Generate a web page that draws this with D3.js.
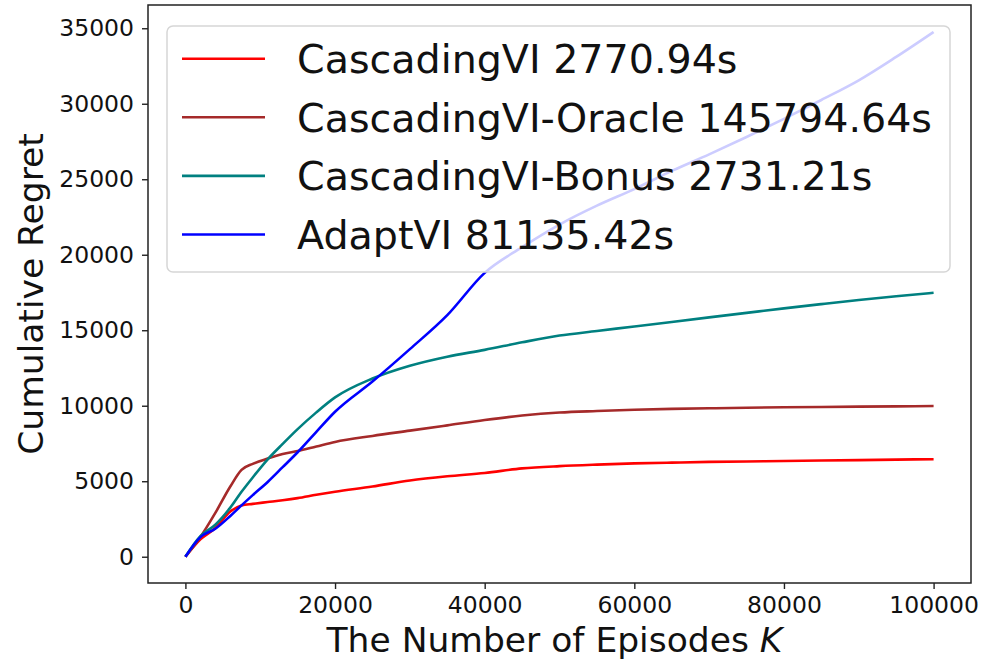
<!DOCTYPE html>
<html>
<head>
<meta charset="utf-8">
<script src="https://cdn.jsdelivr.net/npm/d3@7"></script>
<style>
  body { margin: 0; background: #fff; }
  svg { font-family: "DejaVu Sans", sans-serif; }
</style>
</head>
<body>
<svg width="984" height="660"></svg>
<script>
// episodes (shared x grid)
var episodes = [0, 2000, 4000, 6000, 7500, 9000, 11000, 13000, 15000, 17500, 20000, 25000, 30000, 35000, 40000,
  45000, 50000, 55000, 60000, 65000, 70000, 75000, 80000, 85000, 90000, 95000, 100000];

var cascadingVI = [0, 1150, 1900, 3000, 3400, 3500, 3620, 3740, 3880, 4100, 4300, 4650, 5050, 5330, 5550,
  5850, 6000, 6100, 6180, 6230, 6280, 6310, 6340, 6370, 6400, 6430, 6460];
var cascadingOracle = [0, 1300, 2900, 4650, 5750, 6150, 6500, 6800, 7000, 7300, 7600, 8000, 8350, 8700, 9050,
  9350, 9550, 9650, 9730, 9790, 9830, 9870, 9900, 9920, 9940, 9960, 9980];
var cascadingBonus = [0, 1360, 2120, 3250, 4300, 5250, 6450, 7470, 8450, 9560, 10550, 11800, 12650, 13250, 13700,
  14200, 14650, 14950, 15250, 15550, 15850, 16150, 16450, 16730, 17000, 17250, 17480];
var adaptVI = [0, 1300, 1850, 2700, 3400, 4080, 4950, 5930, 6920, 8270, 9600, 11600, 13750, 16000, 18800,
  20500, 22000, 23250, 24350, 25550, 26650, 27800, 29000, 30250, 31550, 33100, 34750];

var seriesNames = ["CascadingVI 2770.94s", "CascadingVI-Oracle 145794.64s", "CascadingVI-Bonus 2731.21s", "AdaptVI 81135.42s"];
var seriesColors = ["red", "#a52a2a", "teal", "blue"];
var seriesValues = [cascadingVI, cascadingOracle, cascadingBonus, adaptVI];

var xTicks = [0, 20000, 40000, 60000, 80000, 100000];
var yTicks = [0, 5000, 10000, 15000, 20000, 25000, 30000, 35000];

var svg = d3.select("svg");
var plot = { left: 148, right: 971, top: 5, bottom: 583 };

var x = d3.scaleLinear().domain([-5000, 105000]).range([plot.left, plot.right]);
var y = d3.scaleLinear().domain([-1740, 36540]).range([plot.bottom, plot.top]);

// lines
var line = d3.line()
  .x(function(d, i) { return x(episodes[i]); })
  .y(function(d) { return y(d); })
  .curve(d3.curveMonotoneX);

svg.append("g").selectAll("path")
  .data(seriesValues)
  .enter().append("path")
  .attr("d", line)
  .attr("fill", "none")
  .attr("stroke", function(d, i) { return seriesColors[i]; })
  .attr("stroke-width", 2.6)
  .attr("stroke-linejoin", "round");

// axes
var xAxis = d3.axisBottom(x).tickValues(xTicks).tickSize(6).tickPadding(7).tickFormat(d3.format("d"));
var yAxis = d3.axisLeft(y).tickValues(yTicks).tickSize(6).tickPadding(8).tickFormat(d3.format("d"));

var gx = svg.append("g").attr("transform", "translate(0," + plot.bottom + ")").call(xAxis);
var gy = svg.append("g").attr("transform", "translate(" + plot.left + ",0)").call(yAxis);
[gx, gy].forEach(function(g) {
  g.select(".domain").remove();
  g.selectAll("line").attr("stroke", "#222").attr("stroke-width", 1.4);
  g.selectAll("text").attr("font-size", 23.5).attr("fill", "#111").attr("font-family", "DejaVu Sans");
});

// frame
svg.append("rect")
  .attr("x", plot.left).attr("y", plot.top)
  .attr("width", plot.right - plot.left).attr("height", plot.bottom - plot.top)
  .attr("fill", "none").attr("stroke", "#222").attr("stroke-width", 1.5);

// axis labels
svg.append("text")
  .attr("x", (plot.left + plot.right) / 2 - 5).attr("y", 652)
  .attr("text-anchor", "middle").attr("font-size", 34.5).attr("fill", "#111")
  .text("The Number of Episodes ")
  .append("tspan").attr("font-style", "italic").text("K");

svg.append("text")
  .attr("transform", "translate(43," + (plot.top + plot.bottom) / 2 + ") rotate(-90)")
  .attr("text-anchor", "middle").attr("font-size", 34.5).attr("fill", "#111")
  .text("Cumulative Regret");

// legend
var legend = svg.append("g");
legend.append("rect")
  .attr("x", 167).attr("y", 26).attr("width", 783).attr("height", 246).attr("rx", 6)
  .attr("fill", "white").attr("fill-opacity", 0.8)
  .attr("stroke", "#d6d6d6").attr("stroke-width", 1.5);

var rows = legend.selectAll("g.row")
  .data(seriesNames)
  .enter().append("g")
  .attr("transform", function(d, i) { return "translate(0," + (58.7 + i * 58.6) + ")"; });

rows.append("line")
  .attr("x1", 182).attr("x2", 265)
  .attr("stroke", function(d, i) { return seriesColors[i]; })
  .attr("stroke-width", 2.6);

rows.append("text")
  .attr("x", 297).attr("y", 14.5)
  .attr("font-size", 39.6).attr("fill", "#111")
  .text(function(d) { return d; });
</script>
</body>
</html>
